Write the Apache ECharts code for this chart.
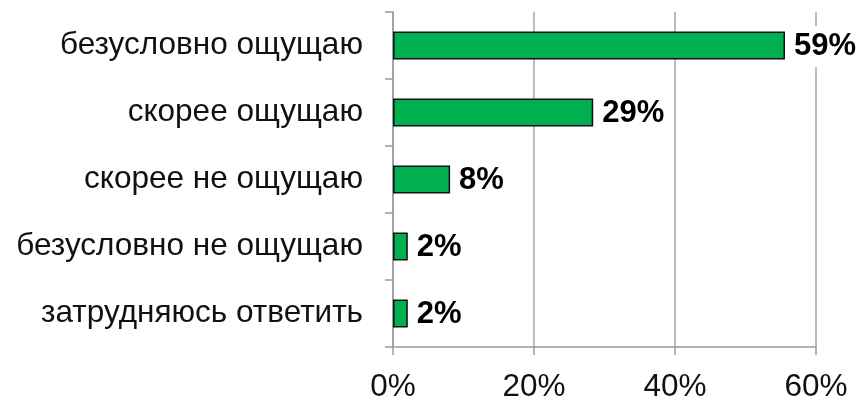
<!DOCTYPE html>
<html>
<head>
<meta charset="utf-8">
<script src="https://cdn.jsdelivr.net/npm/echarts@6/dist/echarts.min.js"></script>
<style>
  html, body { margin: 0; padding: 0; background: #fff; }
  #chart { width: 863px; height: 403px; }
</style>
</head>
<body>
<div id="chart"></div>
<script>
// answers, top to bottom
var categories = [
    "безусловно ощущаю",
    "скорее ощущаю",
    "скорее не ощущаю",
    "безусловно не ощущаю",
    "затрудняюсь ответить"
];
// bar lengths as drawn in the picture
var values = [55.6, 28.4, 8.1, 2.1, 2.1];
// printed labels
var valueLabels = ["59%", "29%", "8%", "2%", "2%"];
var xTicks = [0, 20, 40, 60];

var chart = echarts.init(document.getElementById("chart"));
chart.setOption({
    animation: false,
    grid: {
        left: 393,
        right: 47,
        top: 12,
        bottom: 50
    },
    xAxis: {
        type: "value",
        min: xTicks[0],
        max: xTicks[xTicks.length - 1],
        interval: 20,
        axisLine: { show: true, lineStyle: { color: "#9a9a9a", width: 1.5 } },
        axisTick: { show: true, length: 8, lineStyle: { color: "#9a9a9a", width: 1.5 } },
        splitLine: { show: true, lineStyle: { color: "#a6a6a6", width: 1.5 } },
        axisLabel: {
            formatter: "{value}%",
            color: "#111",
            fontFamily: "Liberation Sans, Arial",
            fontSize: 31.5,
            margin: 24
        }
    },
    yAxis: {
        type: "category",
        inverse: true,
        data: categories,
        axisLine: { show: true, lineStyle: { color: "#9a9a9a", width: 1.5 } },
        axisTick: { show: true, length: 8, lineStyle: { color: "#9a9a9a", width: 1.5 } },
        axisLabel: {
            color: "#111",
            fontFamily: "Liberation Sans, Arial",
            fontSize: 31.5,
            margin: 30
        }
    },
    series: [
        {
            type: "bar",
            data: values,
            barWidth: 28,
            itemStyle: {
                color: "#00b050",
                borderColor: "#111",
                borderWidth: 1.5
            },
            label: {
                show: true,
                position: "right",
                distance: 1,
                offset: [0, 1],
                formatter: function (p) {
                    return valueLabels[p.dataIndex];
                },
                color: "#000",
                fontFamily: "Liberation Sans, Arial",
                fontWeight: "bold",
                fontSize: 31,
                backgroundColor: "#fff",
                padding: [6, 6, 4, 8]
            }
        }
    ]
});
</script>
</body>
</html>
